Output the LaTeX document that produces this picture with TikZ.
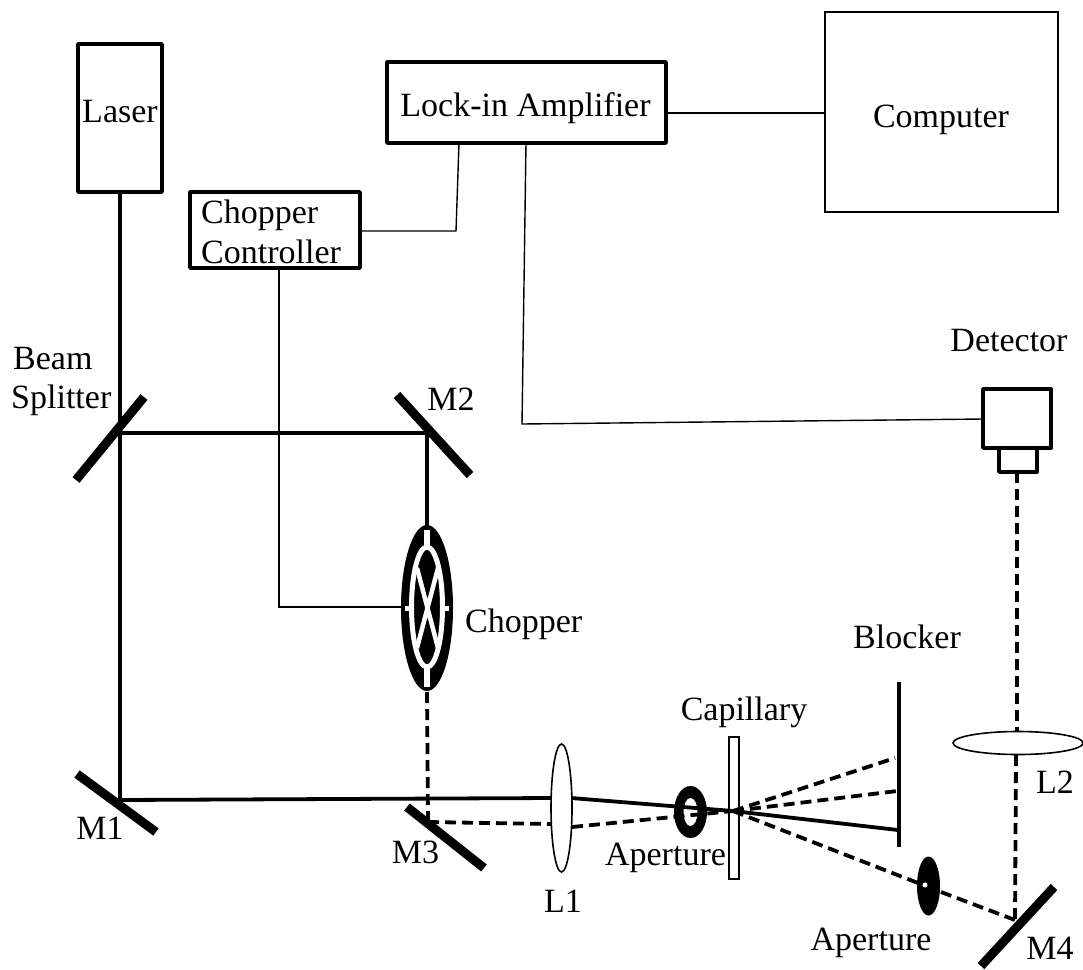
\documentclass[tikz,border=0pt]{standalone}
\usepackage{fontspec}
\setmainfont{Liberation Serif}
\begin{document}
\begin{tikzpicture}[x=1pt,y=-1pt,
  box/.style={draw=black,line width=3.8pt,line join=round},
  thinbox/.style={draw=black,line width=1.6pt},
  beam/.style={draw=black,line width=3.8pt},
  dbeam/.style={draw=black,line width=3.8pt,dash pattern=on 11pt off 6pt},
  wire/.style={draw=black,line width=1.4pt},
  mirror/.style={draw=black,line width=9pt},
  lbl/.style={font=\fontsize{34}{38}\selectfont,inner sep=0pt,align=left,anchor=base},
  lbw/.style={lbl,anchor=base west}]
\useasboundingbox (0,0) rectangle (1083,969);
% boxes
\draw[box] (78,44) rectangle (162,192);
\node[lbl] (laser) at (120,122) {Laser};
\coordinate (laserb) at (120,192);
\draw[box] (387,62) rectangle (666,143);
\node[lbl] (lockin) at (525.5,116) {Lock-in Amplifier};
\draw[thinbox] (825,12) rectangle (1058,212);
\node[lbl] (computer) at (941,127) {Computer};
\draw[box] (190,192) rectangle (360,268);
\node[lbw] (cc1) at (201,223) {Chopper};
\node[lbw] (cc2) at (201,263) {Controller};
\draw[box] (983,389) rectangle (1051,448);
\draw[box] (999,448) rectangle (1037,472);
\node[lbl] (det) at (1009,351) {Detector};
% wires
\coordinate (a1) at (666,113); \coordinate (a2) at (825,113);
\draw[wire] (a1) -- (a2);
\coordinate (b1) at (459,143); \coordinate (b2) at (456,231); \coordinate (b3) at (360,231);
\draw[wire] (b1) -- (b2) -- (b3);
\coordinate (c1) at (526,143); \coordinate (c2) at (522,424); \coordinate (c3) at (983,419);
\draw[wire] (c1) -- (c2) -- (c3);
\coordinate (d1) at (279,268); \coordinate (d2) at (279,607); \coordinate (d3) at (405,607);
\draw[wire] (d1) -- (d2) -- (d3);
% apertures under the beams
\fill[black] (690.5,812) ellipse (16.5 and 26);
\fill[white] (690.5,812) ellipse (7 and 14);
\fill[black] (928.5,886) ellipse (11.5 and 29.5);
\fill[white] (925,885) circle (2.5);
% beams
\coordinate (bs) at (120,433); \coordinate (m2c) at (427,433);
\coordinate (m1c) at (120,800); \coordinate (m3c) at (428,822);
\coordinate (l1a) at (552,798); \coordinate (l1b) at (571,798);
\coordinate (l1c) at (572,827); \coordinate (l1d) at (551,824);
\coordinate (f) at (733,811);
\coordinate (m4c) at (1015,920);
\coordinate (bt) at (898,830); \coordinate (bm) at (897,791); \coordinate (bu) at (895,758);
\draw[beam] (laserb) -- (m1c);
\draw[beam] (bs) -- (m2c) -- (427,527);
\draw[beam] (m1c) -- (l1a);
\draw[beam] (l1b) -- (f) -- (bt);
\draw[dbeam] (427,692) -- (m3c);
\draw[dbeam] (m3c) -- (l1d);
\draw[dbeam] (l1c) -- (f);
\draw[dbeam] (f) -- (bu);
\draw[dbeam] (f) -- (bm);
\draw[dbeam] (f) -- (918,883);
\draw[dbeam] (941,892) -- (m4c);
\draw[dbeam] (1017,472) -- (1017,732);
\draw[dbeam] (1016,755) -- (m4c);
% mirrors
\draw[mirror] (76,480) -- (144,397);
\draw[mirror] (397,395) -- (470,475);
\draw[mirror] (77,774) -- (156,832);
\draw[mirror] (407,807) -- (484,868);
\draw[mirror] (981,966) -- (1054,887);
% blocker
\draw[draw=black,line width=3.8pt] (899,682) -- (899,847);
% chopper
\fill[black] (427,608) ellipse (26 and 83);
\draw[white,line width=5pt] (427,607) ellipse (15.5 and 60);
\draw[white,line width=6pt] (427,530) -- (427,547) (427,668) -- (427,687);
\draw[white,line width=5pt] (405,608) -- (413,608) (442,608) -- (449,608);
\draw[white,line width=4.5pt] (417,568) -- (438,648) (438,568) -- (417,648);
% lenses
\draw[black,line width=1.6pt,fill=white] (561.5,808) ellipse (10.5 and 64);
\draw[black,line width=1.6pt,fill=white] (1018,743) ellipse (65 and 11.5);
% capillary
\draw[black,line width=1.6pt] (729,737) rectangle (739,879);
% labels
\node[lbw] (bsl1) at (13,369) {Beam};
\node[lbw] (bsl2) at (11,408) {Splitter};
\node[lbl] (m2l) at (451,410) {M2};
\node[lbw] (chl) at (465,632) {Chopper};
\node[lbl] (bl) at (907,648) {Blocker};
\node[lbl] (capl) at (744,720) {Capillary};
\node[lbl] (l2l) at (1055,793) {L2};
\node[lbl] (m1l) at (100,839) {M1};
\node[lbl] (m3l) at (415.5,863) {M3};
\node[lbl] (l1l) at (563,912) {L1};
\node[lbl] (apl1) at (665.5,865) {Aperture};
\node[lbl] (apl2) at (871,950) {Aperture};
\node[lbl] (m4l) at (1050,959) {M4};
\end{tikzpicture}
\end{document}
